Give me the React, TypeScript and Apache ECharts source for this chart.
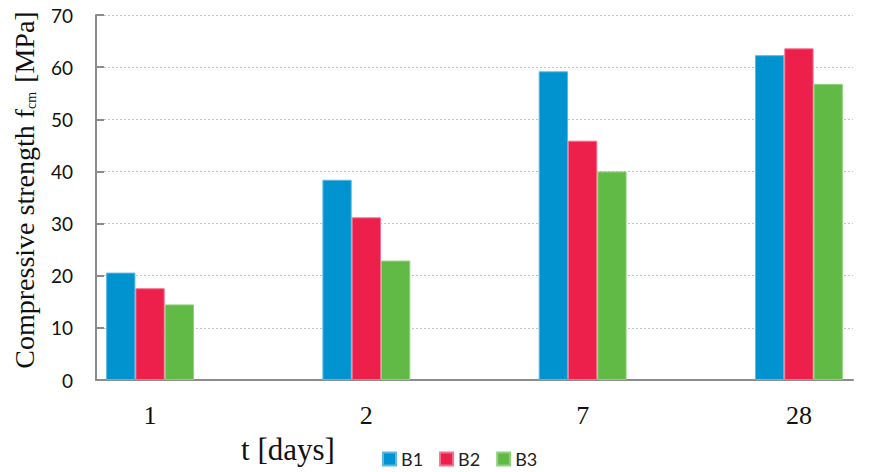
import React, { useEffect, useRef } from "react";
import * as echarts from "echarts";

// Test ages (days) and mean compressive strength per mix
const categories = ["1", "2", "7", "28"];
const seriesNames = ["B1", "B2", "B3"];
const b1Values = [20.6, 38.4, 59.2, 62.3];
const b2Values = [17.6, 31.2, 45.9, 63.6];
const b3Values = [14.5, 22.9, 40.0, 56.8];
const yTicks = [0, 10, 20, 30, 40, 50, 60, 70];

const colors = ["#0093D0", "#ED1F4B", "#62BA46"];
const borders = ["#5DB8E0", "#F27390", "#94D07F"];

export default function App() {
  const ref = useRef<HTMLDivElement>(null);

  useEffect(() => {
    if (!ref.current) return;
    const chart = echarts.init(ref.current, undefined, { renderer: "svg" });
    const values = [b1Values, b2Values, b3Values];

    chart.setOption({
      animation: false,
      backgroundColor: "#ffffff",
      grid: { left: 96, right: 17, top: 15, bottom: 92 },
      legend: {
        left: 382,
        top: 450,
        padding: 0,
        itemWidth: 13,
        itemHeight: 13,
        itemGap: 16,
        icon: "rect",
        textStyle: { fontFamily: "Lato", fontSize: 18, color: "#222" },
        data: seriesNames,
      },
      xAxis: {
        type: "value",
        min: -0.25,
        max: 3.25,
        splitLine: { show: false },
        axisTick: { show: false },
        axisLine: { show: true, onZero: false, lineStyle: { color: "#8c8c8c", width: 2 } },
        axisLabel: {
          customValues: categories.map((_, i) => i),
          formatter: (v: number) => categories[Math.round(v)] ?? "",
          margin: 22,
          fontFamily: "Liberation Serif",
          fontSize: 26,
          color: "#111",
        },
      },
      yAxis: {
        type: "value",
        min: yTicks[0],
        max: yTicks[yTicks.length - 1],
        interval: 10,
        axisLine: { show: true, onZero: false, lineStyle: { color: "#8c8c8c", width: 2 } },
        axisTick: { show: true, inside: true, length: 8, lineStyle: { color: "#8c8c8c", width: 2 } },
        splitLine: { show: true, lineStyle: { color: "#c2c2c2", type: [2, 2], width: 1 } },
        axisLabel: {
          margin: 23,
          fontFamily: "Lato",
          fontSize: 19,
          color: "#111",
        },
      },
      series: seriesNames.map((name, s) => ({
        name,
        type: "bar",
        barWidth: 29.3,
        barGap: "0%",
        itemStyle: { color: colors[s], borderColor: borders[s], borderWidth: 1 },
        data: values[s].map((v, i) => [i, v]),
      })),
      graphic: [
        {
          type: "text",
          x: 24,
          y: 190,
          rotation: Math.PI / 2,
          style: {
            text: "{a|Compressive strength f}{b|cm}{a| [MPa]}",
            align: "center",
            verticalAlign: "middle",
            fill: "#111",
            rich: {
              a: { fontFamily: "Liberation Serif", fontSize: 28, fill: "#111" },
              b: {
                fontFamily: "Liberation Serif",
                fontSize: 14,
                fill: "#111",
                verticalAlign: "bottom",
                padding: [0, 2, 0, 0],
              },
            },
          },
        },
        {
          type: "text",
          x: 288,
          y: 449,
          style: {
            text: "t [days]",
            align: "center",
            verticalAlign: "middle",
            fontFamily: "Liberation Serif",
            fontSize: 31,
            fill: "#111",
          },
        },
      ],
    });

    return () => chart.dispose();
  }, []);

  return (
    <div
      ref={ref}
      style={{ position: "fixed", left: 0, top: 0, width: 870, height: 472 }}
    />
  );
}
